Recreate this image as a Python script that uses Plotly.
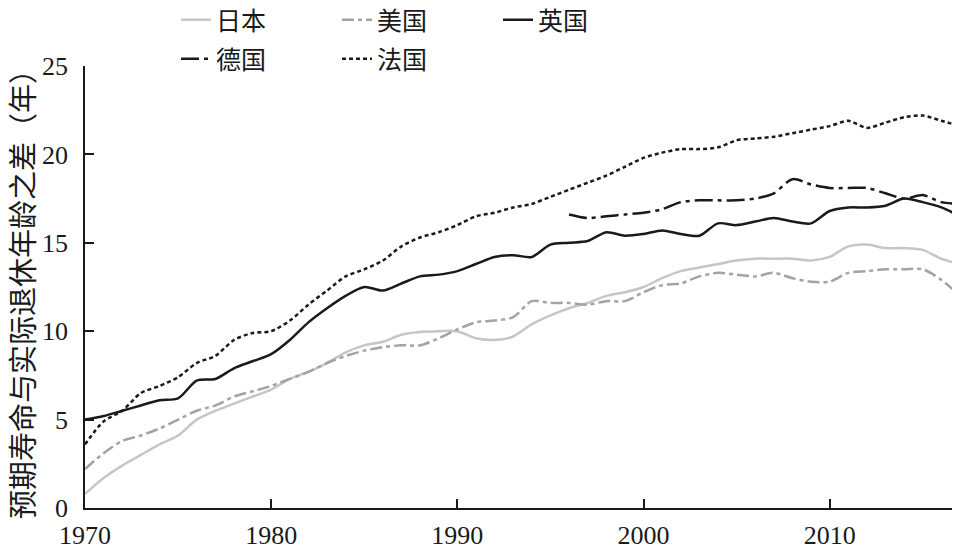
import plotly.graph_objects as go

# 预期寿命与实际退休年龄之差（年），1970-2017
YEARS = list(range(1970, 2018))
JAPAN = [0.8, 1.7, 2.4, 3.0, 3.6, 4.1, 5.0, 5.5, 5.9, 6.3,
         6.7, 7.3, 7.7, 8.2, 8.8, 9.2, 9.4, 9.8, 9.95, 10.0,
         10.0, 9.6, 9.5, 9.7, 10.4, 10.9, 11.3, 11.6, 12.0, 12.2,
         12.5, 13.0, 13.4, 13.6, 13.8, 14.0, 14.1, 14.1, 14.1, 14.0,
         14.2, 14.8, 14.9, 14.7, 14.7, 14.6, 14.1, 13.8]
USA = [2.2, 3.1, 3.8, 4.1, 4.5, 5.0, 5.5, 5.8, 6.3, 6.6,
       6.9, 7.3, 7.7, 8.2, 8.6, 8.9, 9.1, 9.2, 9.2, 9.6,
       10.1, 10.5, 10.6, 10.8, 11.7, 11.6, 11.6, 11.5, 11.7, 11.7,
       12.2, 12.6, 12.7, 13.1, 13.3, 13.2, 13.1, 13.3, 13.0, 12.8,
       12.8, 13.3, 13.4, 13.5, 13.5, 13.5, 12.9, 12.0]
UK = [5.0, 5.2, 5.5, 5.8, 6.1, 6.2, 7.2, 7.3, 7.9, 8.3,
      8.7, 9.5, 10.5, 11.3, 12.0, 12.5, 12.3, 12.7, 13.1, 13.2,
      13.4, 13.8, 14.2, 14.3, 14.2, 14.9, 15.0, 15.1, 15.6, 15.4,
      15.5, 15.7, 15.5, 15.4, 16.1, 16.0, 16.2, 16.4, 16.2, 16.1,
      16.8, 17.0, 17.0, 17.1, 17.5, 17.3, 17.0, 16.5]
GERMANY_YEARS = list(range(1996, 2018))
GERMANY = [16.6, 16.4, 16.5, 16.6, 16.7, 16.9, 17.3, 17.4, 17.4, 17.4,
           17.5, 17.8, 18.6, 18.3, 18.1, 18.1, 18.1, 17.8, 17.5, 17.7,
           17.3, 17.2]
FRANCE = [3.6, 4.9, 5.5, 6.5, 6.9, 7.4, 8.2, 8.6, 9.5, 9.9,
          10.0, 10.6, 11.5, 12.3, 13.1, 13.5, 14.0, 14.8, 15.3, 15.6,
          16.0, 16.5, 16.7, 17.0, 17.2, 17.6, 18.0, 18.4, 18.8, 19.3,
          19.8, 20.1, 20.3, 20.3, 20.4, 20.8, 20.9, 21.0, 21.2, 21.4,
          21.6, 21.9, 21.5, 21.8, 22.1, 22.2, 21.9, 21.6]

X_TICKS = [1970, 1980, 1990, 2000, 2010]
Y_TICKS = [0, 5, 10, 15, 20, 25]

FONT = "Liberation Serif, Noto Sans CJK SC"
INK = "#1a1a1a"

# page body has an 8px margin, so the figure is sized 952x542 to fit the window
W, H = 952, 542

series = [
    ("日本", YEARS, JAPAN, dict(color="#c6c6c6", width=2.5), "legend"),
    ("美国", YEARS, USA, dict(color="#a3a3a3", width=2.5, dash="12px,4px,4px,4px"), "legend"),
    ("英国", YEARS, UK, dict(color=INK, width=2.5), "legend"),
    ("德国", GERMANY_YEARS, GERMANY, dict(color=INK, width=2.5, dash="18px,5px,4px,5px"), "legend2"),
    ("法国", YEARS, FRANCE, dict(color=INK, width=2.5, dash="4px,3px"), "legend2"),
]

fig = go.Figure()
for name, xs, ys, line, lg in series:
    fig.add_trace(go.Scatter(x=xs, y=ys, name=name, mode="lines",
                             line=dict(shape="spline", smoothing=0.8, **line),
                             legend=lg))

leg = dict(orientation="h", xref="container", yref="container", xanchor="left",
           yanchor="middle", entrywidth=116, entrywidthmode="pixels",
           bgcolor="rgba(0,0,0,0)", font=dict(size=25, family=FONT, color=INK))

fig.update_xaxes(range=[1970, 2017], tickvals=X_TICKS, ticks="inside", ticklen=9,
                 tickwidth=1.5, tickcolor=INK, showline=True, linecolor=INK,
                 linewidth=1.5, showgrid=False, zeroline=False,
                 tickfont=dict(size=26), ticklabelstandoff=3)
fig.update_yaxes(range=[0, 25], tickvals=Y_TICKS, ticks="inside", ticklen=9,
                 tickwidth=1.5, tickcolor=INK, showline=True, linecolor=INK,
                 linewidth=1.5, showgrid=False, zeroline=False,
                 tickfont=dict(size=26), ticklabelstandoff=10, automargin=False,
                 title=dict(text="预期寿命与实际退休年龄之差（年）", standoff=8,
                            font=dict(size=29)))
fig.update_layout(width=W, height=H,
                  margin=dict(l=77, r=0, t=58, b=42, autoexpand=False),
                  plot_bgcolor="white", paper_bgcolor="white",
                  font=dict(family=FONT, size=25, color=INK),
                  legend=dict(leg, x=168 / W, y=1 - 12 / H),
                  legend2=dict(leg, x=168 / W, y=1 - 51 / H))

fig.write_html("out.html")
